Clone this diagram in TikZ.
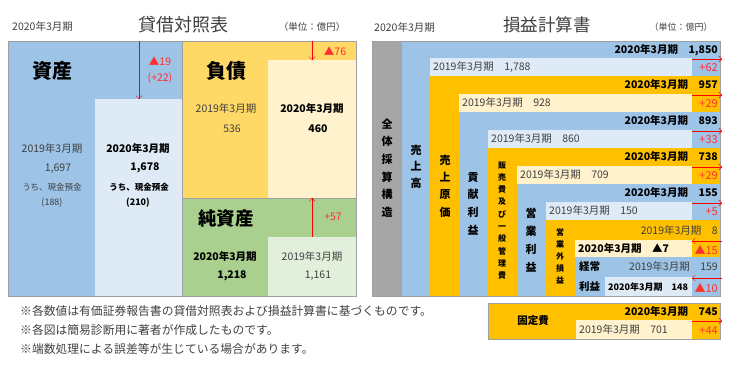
\documentclass[tikz,border=0pt]{standalone}
\usepackage{fontspec}
\setmainfont{Noto Sans CJK JP}
\usetikzlibrary{arrows.meta}
\definecolor{bsblue}{HTML}{9DC3E6}
\definecolor{bsbluel}{HTML}{DEEBF7}
\definecolor{bsyellow}{HTML}{FFD966}
\definecolor{bsyellowl}{HTML}{FFF2CC}
\definecolor{bsgreen}{HTML}{A9D08E}
\definecolor{bsgreenl}{HTML}{E2EFDA}
\definecolor{isorange}{HTML}{FFC000}
\definecolor{isgray}{HTML}{A6A6A6}
\definecolor{framegray}{HTML}{A0A0A0}
\definecolor{txtgray}{HTML}{404040}
\definecolor{txtred}{HTML}{FF3030}
\begin{document}
\begin{tikzpicture}[x=1pt, y=-1pt,
                lbl/.style = {inner sep=0pt, font=\fontsize{10.5}{12}\selectfont, text=txtgray},
                lblb/.style = {inner sep=0pt, font=\fontsize{10.5}{12}\selectfont\bfseries},
                small/.style = {inner sep=0pt, font=\fontsize{8.5}{10}\selectfont},
                big/.style = {inner sep=0pt, font=\fontsize{20}{24}\selectfont\bfseries},
                title/.style = {inner sep=0pt, font=\fontsize{18}{20}\selectfont, text=txtgray},
                unit/.style = {inner sep=0pt, font=\fontsize{9.5}{11}\selectfont, text=txtgray},
                delta/.style = {inner sep=0pt, font=\fontsize{11}{12}\selectfont, text=txtred, anchor=east},
                chg/.style = {draw=red, -{Straight Barb[length=3pt,width=6pt]}},
                vtxt/.style = {inner sep=0pt, align=center, font=\fontsize{11}{17.6}\selectfont\bfseries},
                vsmall/.style = {inner sep=0pt, align=center, font=\fontsize{8}{12.3}\selectfont\bfseries},
                frame/.style = {draw=framegray, line width=0.8pt},
                note/.style = {inner sep=0pt, anchor=west, font=\fontsize{11.8}{14}\selectfont, text=txtgray}
                    ]
                \useasboundingbox (0,0) rectangle (729,371);
                % balance sheet
                \node[lbl, anchor=west] (bsterm) at (12,27) {2020年3月期};
                \node[title] (bstitle) at (183,25) {貸借対照表};
                \node[unit] (bsunit) at (312,27) {（単位：億円）};
                \fill[bsblue] (8,41) rectangle (182,296);
                \fill[bsbluel] (95,99) rectangle (182,296);
                \fill[bsyellow] (182,41) rectangle (356,198);
                \fill[bsyellowl] (268,60) rectangle (356,198);
                \fill[bsgreen] (182,198) rectangle (356,296);
                \fill[bsgreenl] (268,237) rectangle (356,296);
                \draw[frame] (8,41) rectangle (356,296);
                \draw[frame] (182,41) -- (182,296);
                \draw[frame] (182,198) -- (356,198);
                % assets
                \node[big] (asset) at (52,71) {資産};
                \node[lbl] (asset19) at (52,149) {2019年3月期};
                \node[lbl] (asset19v) at (58,169) {1,697};
                \node[small, text=txtgray] (cash19) at (52,187) {うち、現金預金};
                \node[small, font=\fontsize{9}{10}\selectfont, text=txtgray] (cash19v) at (52,203) {(188)};
                \node[lblb] (asset20) at (138,149) {2020年3月期};
                \node[lblb] (asset20v) at (145,168) {1,678};
                \node[small, font=\fontsize{8.5}{10}\selectfont\bfseries] (cash20) at (139,187) {うち、現金預金};
                \node[small, font=\fontsize{9}{10}\selectfont\bfseries] (cash20v) at (138,203) {(210)};
                \node[lbl, text=txtred] (assetd) at (160,61) {▲19};
                \node[lbl, text=txtred] (cashd) at (160,78) {(+22)};
                \coordinate (asseta) at (139,41);
                \coordinate (assetb) at (139,99);
                \draw[chg] (asseta) -- (assetb);
                % liabilities
                \node[big] (liab) at (226,71) {負債};
                \node[lbl] (liab19) at (226,109) {2019年3月期};
                \node[lbl] (liab19v) at (232,129) {536};
                \node[lblb] (liab20) at (312,109) {2020年3月期};
                \node[lblb] (liab20v) at (318,129) {460};
                \node[lbl, text=txtred] (liabd) at (335,51) {▲76};
                \coordinate (liaba) at (312,41);
                \coordinate (liabb) at (312,60);
                \draw[chg] (liaba) -- (liabb);
                % net assets
                \node[big, font=\fontsize{18.5}{22}\selectfont\bfseries] (net) at (226,218) {純資産};
                \node[lblb] (net20) at (225,257) {2020年3月期};
                \node[lblb] (net20v) at (232,276) {1,218};
                \node[lbl] (net19) at (312,257) {2019年3月期};
                \node[lbl] (net19v) at (318,276) {1,161};
                \node[lbl, text=txtred] (netd) at (333,217) {+57};
                \coordinate (neta) at (312,237);
                \coordinate (netb) at (312,198);
                \draw[chg] (neta) -- (netb);
                % income statement
                \node[lbl, anchor=west] (isterm) at (374,28) {2020年3月期};
                \node[title, font=\fontsize{17.5}{20}\selectfont] (istitle) at (547,25) {損益計算書};
                \node[unit, font=\fontsize{9}{11}\selectfont] (isunit) at (681,27) {（単位：億円）};
                \fill[isgray] (372,41) rectangle (720,296);
                \fill[bsblue] (402,41) rectangle (720,296);
                \fill[bsbluel] (430,58) rectangle (692,76);
                \fill[isorange] (430,76) rectangle (720,296);
                \fill[bsyellowl] (459,94) rectangle (692,112);
                \fill[bsblue] (459,112) rectangle (720,296);
                \fill[bsbluel] (488,130) rectangle (692,148);
                \fill[isorange] (488,148) rectangle (720,296);
                \fill[bsyellowl] (517,166) rectangle (692,184);
                \fill[bsblue] (517,184) rectangle (720,296);
                \fill[bsbluel] (546,202) rectangle (692,220);
                \fill[isorange] (546,220) rectangle (720,296);
                \fill[bsyellowl] (575,240) rectangle (692,257);
                \fill[bsblue] (575,257) rectangle (720,296);
                \fill[bsbluel] (605,277) rectangle (692,296);
                \draw[frame] (372,41) rectangle (720,296);
                \node[vtxt] (total) at (387,168) {全\\体\\採\\算\\構\\造};
                \node[vtxt, font=\fontsize{11}{16.5}\selectfont\bfseries] (salesv) at (416,166.5) {売\\上\\高};
                \node[vtxt, font=\fontsize{11}{17.3}\selectfont\bfseries] (costv) at (445,186) {売\\上\\原\\価};
                \node[vtxt, font=\fontsize{11}{17.7}\selectfont\bfseries] (contribv) at (473,203.5) {貢\\献\\利\\益};
                \node[vsmall] (sgav) at (502,220.5) {販\\売\\費\\及\\び\\一\\般\\管\\理\\費};
                \node[vtxt, font=\fontsize{11}{18}\selectfont\bfseries] (opv) at (531,240) {営\\業\\利\\益};
                \node[vsmall, font=\fontsize{8}{12}\selectfont\bfseries] (nonopv) at (560,256) {営\\業\\外\\損\\益};
                % sales
                \node[lblb, anchor=east] (sales20) at (718,50) {2020年3月期　1,850};
                \node[lbl, anchor=west] (sales19) at (433,67) {2019年3月期　1,788};
                \node[delta] (salesd) at (718,68) {+62};
                \coordinate (salesa) at (692,59);
                \coordinate (salesb) at (722,59);
                \draw[chg] (salesa) -- (salesb);
                % cost of sales
                \node[lblb, anchor=east] (cost20) at (718,85) {2020年3月期　957};
                \node[lbl, anchor=west] (cost19) at (462,103) {2019年3月期　928};
                \node[delta] (costd) at (718,104) {+29};
                \coordinate (costa) at (692,95);
                \coordinate (costb) at (722,95);
                \draw[chg] (costa) -- (costb);
                % contribution margin
                \node[lblb, anchor=east] (contrib20) at (718,121) {2020年3月期　893};
                \node[lbl, anchor=west] (contrib19) at (491,139) {2019年3月期　860};
                \node[delta] (contribd) at (718,140) {+33};
                \coordinate (contriba) at (692,131);
                \coordinate (contribb) at (722,131);
                \draw[chg] (contriba) -- (contribb);
                % selling, general and administrative expenses
                \node[lblb, anchor=east] (sga20) at (718,157) {2020年3月期　738};
                \node[lbl, anchor=west] (sga19) at (520,175) {2019年3月期　709};
                \node[delta] (sgad) at (718,176) {+29};
                \coordinate (sgaa) at (692,167);
                \coordinate (sgab) at (722,167);
                \draw[chg] (sgaa) -- (sgab);
                % operating income
                \node[lblb, anchor=east] (op20) at (718,193) {2020年3月期　155};
                \node[lbl, anchor=west] (op19) at (549,211) {2019年3月期　150};
                \node[delta] (opd) at (718,212) {+5};
                \coordinate (opa) at (692,203);
                \coordinate (opb) at (722,203);
                \draw[chg] (opa) -- (opb);
                % non-operating
                \node[lbl, anchor=east] (nonop19) at (718,231) {2019年3月期　8};
                \node[lblb, anchor=west] (nonop20) at (578,249) {2020年3月期　▲7};
                \node[delta] (nonopd) at (718,250) {▲15};
                \coordinate (nonopa) at (722,241);
                \coordinate (nonopb) at (692,241);
                \draw[chg] (nonopa) -- (nonopb);
                % ordinary income
                \node[lblb, anchor=west] (ordlbl) at (579,267) {経常};
                \node[lbl, anchor=east] (ord19) at (718,267) {2019年3月期　159};
                \node[lblb, anchor=west] (ordlblb) at (579,287) {利益};
                \node[lblb, anchor=west, font=\fontsize{9}{11}\selectfont\bfseries] (ord20) at (608,287) {2020年3月期　148};
                \node[delta] (ordd) at (718,288) {▲10};
                \coordinate (orda) at (722,278);
                \coordinate (ordb) at (692,278);
                \draw[chg] (orda) -- (ordb);
                % fixed costs
                \fill[isorange] (488,303) rectangle (720,339);
                \fill[bsyellowl] (576,320) rectangle (692,339);
                \draw[frame] (488,303) rectangle (720,339);
                \node[lblb] (fixlbl) at (533,321) {固定費};
                \node[lblb, anchor=east] (fix20) at (718,312) {2020年3月期　745};
                \node[lbl, anchor=west] (fix19) at (579,330) {2019年3月期　701};
                \node[delta] (fixd) at (718,331) {+44};
                \coordinate (fixa) at (692,321);
                \coordinate (fixb) at (722,321);
                \draw[chg] (fixa) -- (fixb);
                % notes
                \node[note] (note1) at (20,311) {※各数値は有価証券報告書の貸借対照表および損益計算書に基づくものです。};
                \node[note] (note2) at (20,330) {※各図は簡易診断用に著者が作成したものです。};
                \node[note] (note3) at (20,349) {※端数処理による誤差等が生じている場合があります。};
            \end{tikzpicture}
\end{document}
